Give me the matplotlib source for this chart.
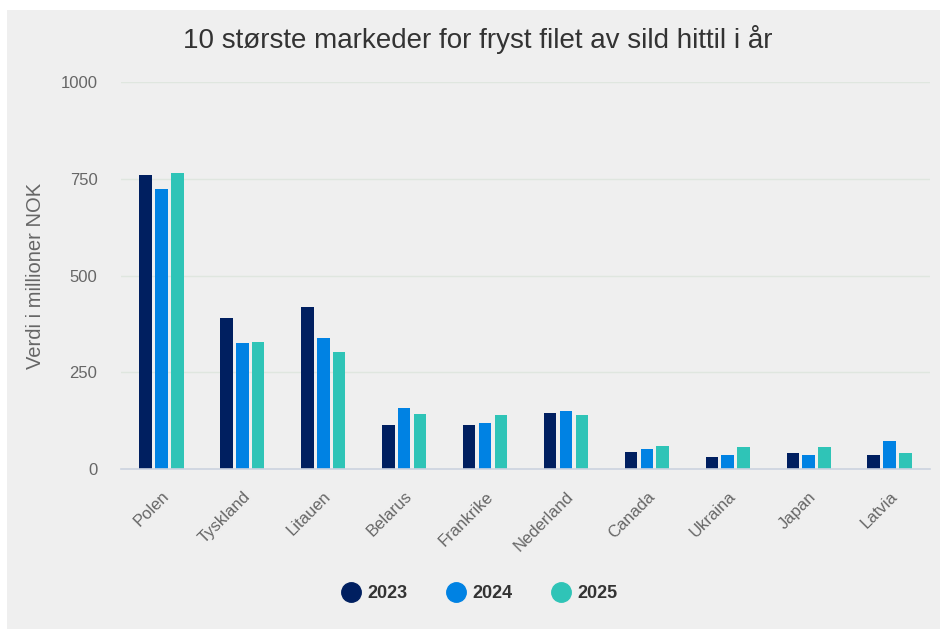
import numpy as np
import matplotlib.pyplot as plt
from matplotlib.patches import Rectangle
from matplotlib.lines import Line2D

countries = ['Polen', 'Tyskland', 'Litauen', 'Belarus', 'Frankrike',
             'Nederland', 'Canada', 'Ukraina', 'Japan', 'Latvia']
years = ['2023', '2024', '2025']
v2023 = [760, 390, 419, 114, 114, 146, 45, 33, 42, 37]
v2024 = [724, 325, 338, 159, 119, 151, 53, 37, 37, 74]
v2025 = [765, 329, 302, 143, 139, 139, 61, 57, 57, 42]
yticks = [0, 250, 500, 750, 1000]

colors = ['#001f60', '#0082e3', '#2fc4b7']
bg = '#efefef'

plt.rcParams['font.family'] = ['Liberation Sans', 'DejaVu Sans']

fig = plt.figure(figsize=(9.4, 6.29), dpi=100, facecolor='white')
# grey card behind the chart, white strip on top and left
fig.patches.append(Rectangle((7 / 940, 0), 1, 1 - 10 / 629, transform=fig.transFigure,
                             facecolor=bg, edgecolor='none', zorder=-10))

ax = fig.add_axes([121 / 940, 1 - 469.3 / 629, (930 - 121) / 940, (469.3 - 82) / 629])
ax.set_facecolor(bg)

x = np.arange(len(countries))
w = 0.155
step = 0.196
for i, (vals, c) in enumerate(zip([v2023, v2024, v2025], colors)):
    ax.bar(x + (i - 1) * step, vals, width=w, color=c, zorder=3)

ax.set_xlim(-0.5, len(countries) - 0.5)
ax.set_ylim(0, 1000)
ax.set_yticks(yticks)
ax.set_yticklabels([str(t) for t in yticks], fontsize=12, color='#666666')
ax.tick_params(axis='y', length=0, pad=17)
ax.set_xticks(x)
ax.set_xticklabels(countries, rotation=45, ha='right', va='top',
                   rotation_mode='anchor', fontsize=12, color='#666666')
ax.tick_params(axis='x', length=0, pad=14)

ax.grid(axis='y', color='#dfe6df', linewidth=1, zorder=0)
for s in ['top', 'right', 'left']:
    ax.spines[s].set_visible(False)
ax.spines['bottom'].set_color('#ccd3e0')
ax.spines['bottom'].set_linewidth(1.2)
ax.spines['bottom'].set_zorder(4)

ax.set_ylabel('Verdi i millioner NOK', fontsize=14.5, color='#666666', labelpad=11)

fig.text(478 / 940, 1 - 39 / 629, '10 største markeder for fryst filet av sild hittil i år',
         ha='center', va='center', fontsize=20, color='#333333')

handles = [Line2D([], [], marker='o', linestyle='none', markersize=14,
                  markerfacecolor=c, markeredgecolor=c) for c in colors]
leg = fig.legend(handles, years, loc='center', bbox_to_anchor=(480 / 940, 1 - 594 / 629),
                 ncol=3, frameon=False, prop={'weight': 'bold', 'size': 13},
                 handletextpad=0.4, columnspacing=2.2, handlelength=1.0)
for t in leg.get_texts():
    t.set_color('#333333')

fig.savefig('out.png', dpi=100, facecolor=fig.get_facecolor())
